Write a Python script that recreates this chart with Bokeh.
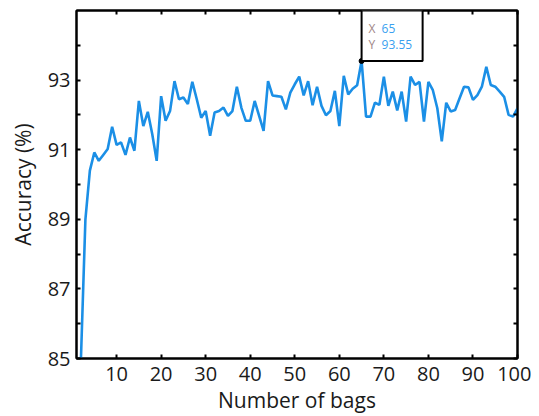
from bokeh.plotting import figure
from bokeh.models import FixedTicker, LinearAxis, Range1d, BoxAnnotation, Label, ColumnDataSource
from bokeh.embed import file_html
from bokeh.resources import INLINE

bags = list(range(2, 101))
accuracy = [
    85.00, 89.00, 90.40, 90.92, 90.68, 90.85, 91.02, 91.66, 91.14, 91.21,
    90.85, 91.35, 90.97, 92.40, 91.68, 92.09, 91.45, 90.68, 92.54, 91.83,
    92.11, 92.97, 92.45, 92.50, 92.31, 92.95, 92.45, 91.92, 92.11, 91.40,
    92.07, 92.11, 92.21, 91.97, 92.11, 92.81, 92.21, 91.83, 91.83, 92.40,
    91.97, 91.54, 92.97, 92.56, 92.54, 92.52, 92.16, 92.64, 92.88, 93.10,
    92.56, 92.97, 92.28, 92.81, 92.26, 91.99, 92.11, 92.69, 91.68, 93.12,
    92.59, 92.75, 92.85, 93.55, 91.95, 91.95, 92.35, 92.29, 93.10, 92.26,
    92.67, 92.13, 92.67, 91.81, 93.10, 92.86, 92.95, 91.81, 92.95, 92.71,
    92.19, 91.24, 92.35, 92.10, 92.14, 92.48, 92.81, 92.79, 92.43, 92.57,
    92.81, 93.38, 92.86, 92.81, 92.67, 92.52, 92.00, 91.95, 92.19,
]
x_ticks = [10, 20, 30, 40, 50, 60, 70, 80, 90, 100]
y_ticks = [85, 87, 89, 91, 93]
y_minor = [86, 88, 90, 92, 94]
peak_x = 65
peak_y = 93.55

FONT = "Open Sans"
TXT = "#1a1a1a"
BLUE = "#1b8fe6"

p = figure(frame_width=441, frame_height=348, output_backend="svg", toolbar_location=None,
           x_range=Range1d(1, 100), y_range=Range1d(85, 95),
           min_border_left=76, min_border_right=14, min_border_top=10, min_border_bottom=56,
           x_axis_label="Number of bags", y_axis_label="Accuracy (%)")
p.grid.visible = False
p.outline_line_color = "black"
p.outline_line_width = 2
p.outline_line_alpha = 1.0
p.background_fill_color = "white"
p.border_fill_color = "white"

def style(ax, ticks, minor, labels=True):
    ax.ticker = FixedTicker(ticks=ticks, minor_ticks=minor)
    ax.axis_line_color = "black"
    ax.axis_line_width = 2
    ax.major_tick_in = 4
    ax.major_tick_out = 0
    ax.minor_tick_in = 4
    ax.minor_tick_out = 0
    ax.major_tick_line_width = 2
    ax.minor_tick_line_width = 2
    ax.major_tick_line_color = "black"
    ax.minor_tick_line_color = "black"
    ax.major_label_text_font = FONT
    ax.major_label_text_font_size = "20px"
    ax.major_label_text_color = TXT
    ax.axis_label_text_font = FONT
    ax.axis_label_text_font_size = "21px"
    ax.axis_label_text_font_style = "normal"
    ax.axis_label_text_color = TXT
    if not labels:
        ax.major_label_text_color = None

style(p.xaxis[0], x_ticks, [])
style(p.yaxis[0], y_ticks, y_minor)
p.xaxis[0].major_label_standoff = 8
p.xaxis[0].axis_label_standoff = 2
p.yaxis[0].major_label_standoff = 6
p.yaxis[0].axis_label_standoff = 8

top = LinearAxis()
style(top, x_ticks, [], labels=False)
top.major_label_text_font_size = "0px"
p.add_layout(top, "above")
right = LinearAxis()
style(right, y_ticks, y_minor, labels=False)
right.major_label_text_font_size = "0px"
p.add_layout(right, "right")

src = ColumnDataSource(dict(x=bags, y=accuracy))
p.line("x", "y", source=src, line_color=BLUE, line_width=2.6)

# data tip
box = BoxAnnotation(left=peak_x, right=peak_x + 13.7, bottom=peak_y, top=95,
                    fill_color="white", fill_alpha=1.0, line_color="black",
                    line_alpha=1.0, line_width=2, level="overlay")
p.add_layout(box)
p.scatter([peak_x], [peak_y], size=5, color="black", level="overlay")
for txt, dx, dy, col in [("X", 7, 32, "#a08686"), (str(peak_x), 20, 32, "#39a0f0"),
                         ("Y", 7, 16, "#a08686"), (f"{peak_y:.2f}", 20, 16, "#39a0f0")]:
    p.add_layout(Label(x=peak_x, y=peak_y, x_offset=dx, y_offset=dy, text=txt,
                       text_font=FONT, text_font_size="12px", text_color=col,
                       text_baseline="middle", text_align="left", level="overlay"))

open("out.html", "w").write(file_html(p, INLINE))
